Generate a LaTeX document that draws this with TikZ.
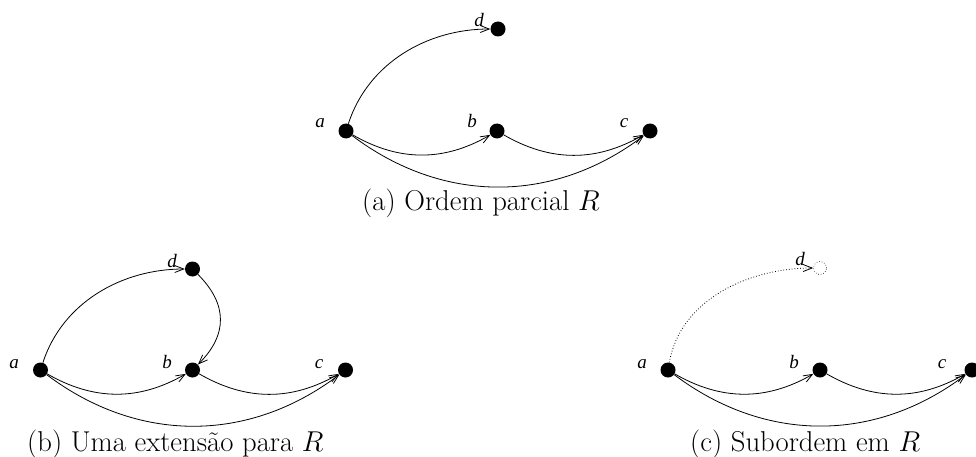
\documentclass[tikz,border=0pt]{standalone}
\usepackage{fix-cm}
\usepackage{fontspec}
\newfontfamily\lblfont{Liberation Serif}
\usetikzlibrary{arrows.meta}

\begin{document}
\begin{tikzpicture}[x=1pt, y=1pt,
    vert/.style={circle, fill=black, inner sep=0pt, minimum size=15pt},
    ghost/.style={circle, draw, dotted, line width=0.6pt, inner sep=0pt, minimum size=13pt},
    lbl/.style={anchor=base, font=\lblfont\itshape\fontsize{19}{22}\selectfont},
    capt/.style={anchor=base west, inner sep=0pt, font=\fontsize{28.7}{34}\selectfont},
    edge/.style={line width=0.8pt, -{Straight Barb[length=9pt, width=7pt]}}]
    \useasboundingbox (0,0) rectangle (976,456);

    % (a) partial order
    \node[vert] (a1) at (346,325) {};
    \node[vert] (b1) at (497,325) {};
    \node[vert] (c1) at (650,325) {};
    \node[vert] (d1) at (498,427) {};
    \node[lbl] (la1) at (320,328) {a};
    \node[lbl] (lb1) at (472,328) {b};
    \node[lbl] (lc1) at (624,328) {c};
    \node[lbl] (ld1) at (479,429) {d};
    \draw[edge] (a1) to[out=72, in=180, looseness=0.95] (d1);
    \draw[edge] (a1) to[out=-30, in=-150] (b1);
    \draw[edge] (b1) to[out=-30, in=-150] (c1);
    \draw[edge] (a1) to[out=-37, in=-143] (c1);
    \node[capt] (capa) at (362,246) {(a) Ordem parcial $R$};

    % (b) extension
    \node[vert] (a2) at (40.5,86) {};
    \node[vert] (b2) at (192.5,86) {};
    \node[vert] (c2) at (345.5,86) {};
    \node[vert] (d2) at (192.5,187) {};
    \node[lbl] (la2) at (14,88) {a};
    \node[lbl] (lb2) at (167,88) {b};
    \node[lbl] (lc2) at (319,88) {c};
    \node[lbl] (ld2) at (172,189) {d};
    \draw[edge] (a2) to[out=72, in=180, looseness=0.95] (d2);
    \draw[edge] (d2) to[out=-45, in=45, looseness=1.2] (b2);
    \draw[edge] (a2) to[out=-30, in=-150] (b2);
    \draw[edge] (b2) to[out=-30, in=-150] (c2);
    \draw[edge] (a2) to[out=-37, in=-143] (c2);
    \node[capt] (capb) at (27,5) {(b) Uma extensão para $R$};

    % (c) suborder
    \node[vert] (a3) at (668,86) {};
    \node[vert] (b3) at (820,86) {};
    \node[vert] (c3) at (972,86) {};
    \node[ghost] (d3) at (820,188) {};
    \node[lbl] (la3) at (642,88) {a};
    \node[lbl] (lb3) at (794,88) {b};
    \node[lbl] (lc3) at (942,88) {c};
    \node[lbl] (ld3) at (800,191) {d};
    \draw[edge, dotted] (a3) to[out=80, in=180, looseness=0.95] (d3);
    \draw[edge] (a3) to[out=-30, in=-150] (b3);
    \draw[edge] (b3) to[out=-30, in=-150] (c3);
    \draw[edge] (a3) to[out=-37, in=-143] (c3);
    \node[capt] (capc) at (690,5) {(c) Subordem em $R$};
\end{tikzpicture}
\end{document}
